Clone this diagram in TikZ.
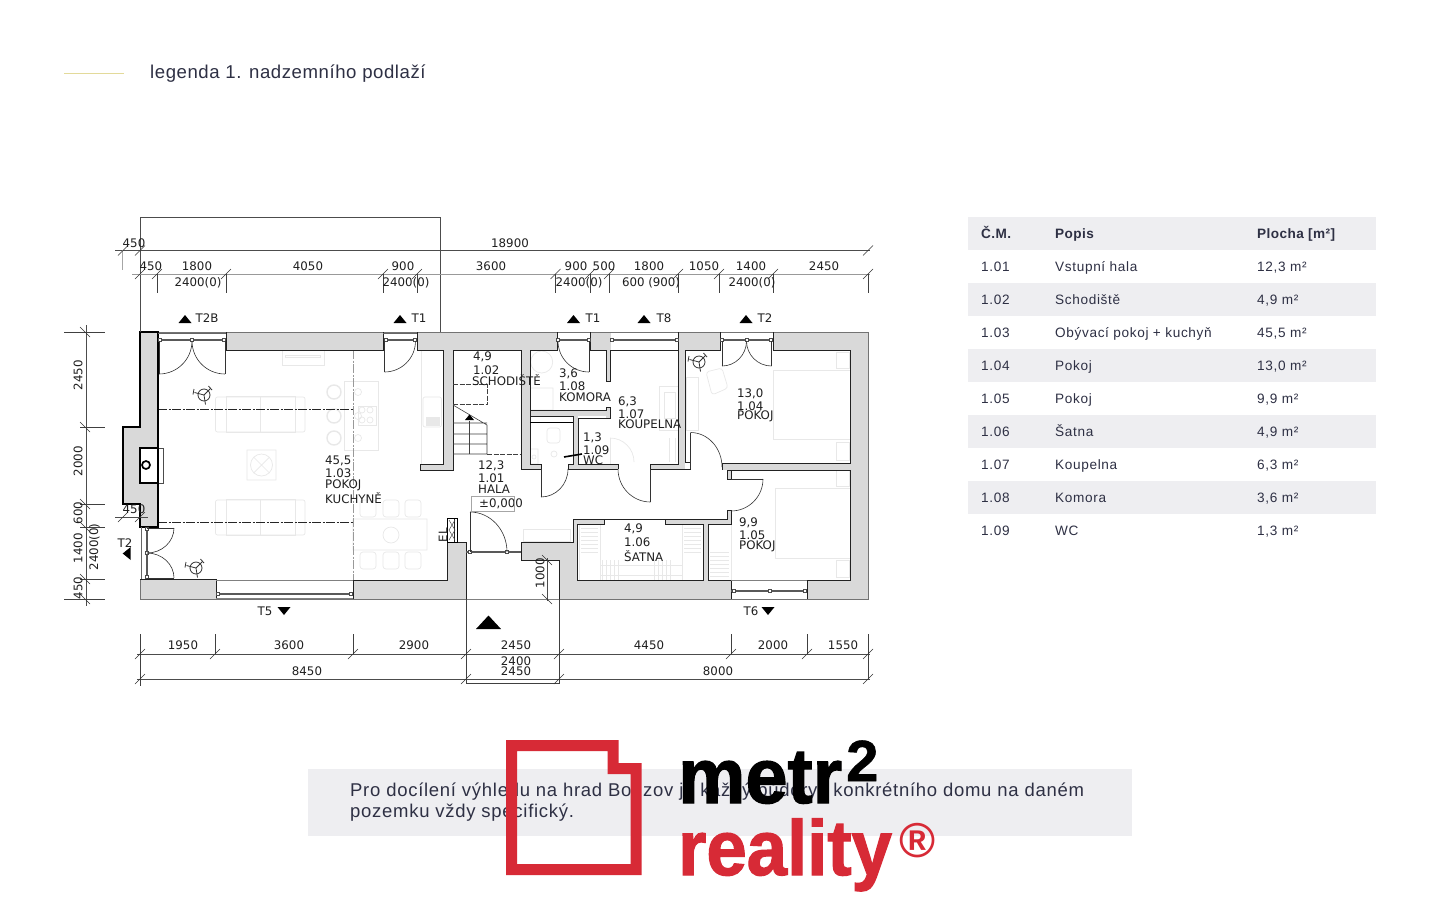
\documentclass[tikz,border=0pt]{standalone}
\usepackage{fontspec}
\usepackage{graphicx}
\usetikzlibrary{calc}
\newfontfamily\planfont{DejaVu Sans}
\newfontfamily\robo[LetterSpace=4.8]{Liberation Sans}
\newfontfamily\robohead[LetterSpace=3.2]{Liberation Sans}
\newfontfamily\robonote[LetterSpace=3.9]{Liberation Sans}
\newfontfamily\robotitle[LetterSpace=3.0]{Liberation Sans}
\newfontfamily\logofont[FakeBold=1.6]{Liberation Sans Bold}
\newfontfamily\logofontb[FakeBold=1.0]{Liberation Sans Bold}
\newfontfamily\logofontc{Liberation Sans Bold}
\definecolor{ink}{HTML}{2E3044}
\definecolor{band}{HTML}{EEEEF1}
\definecolor{wallgray}{HTML}{D9D9D9}
\definecolor{logored}{HTML}{D72A36}
\definecolor{goldline}{HTML}{E3DA9A}
\definecolor{furn}{HTML}{E8E8E8}
\definecolor{edge}{HTML}{222222}
\tikzset{
  plantext/.style={font=\planfont\fontsize{11.8}{12}\selectfont,inner sep=0pt,text=black!88},
  roomtext/.style={plantext,anchor=west},
  dimtext/.style={plantext,anchor=center},
  dimline/.style={line width=.55pt,draw=black!70},
  extline/.style={line width=.6pt,draw=black!75},
  tickline/.style={line width=.6pt,draw=black!80},
  wallline/.style={line width=.9pt,draw=edge},
  outline/.style={line width=.9pt,draw=black!55},
  doorline/.style={line width=.6pt,draw=black!80},
  winline/.style={line width=1.4pt,draw=black!65},
  furnline/.style={line width=.7pt,draw=furn},
  sectionline/.style={line width=.8pt,draw=black!85,dash pattern=on 9pt off 1.5pt on 2pt off 1.5pt},
  tabletext/.style={font=\robo\fontsize{13.6}{14}\selectfont,text=ink,anchor=base west,inner sep=0pt},
  tablehead/.style={font=\robohead\bfseries\fontsize{13.6}{14}\selectfont,text=ink,anchor=base west,inner sep=0pt},
  marker/.style={fill=black,draw=none},
}
\newcommand\wallrect[4]{\fill[wallgray] (#1,#2) rectangle (#3,#4);}
\newcommand\tick[2]{\draw[tickline] (#1-5,#2+5) -- (#1+5,#2-5);}
\newcommand\qarc[7][doorline]{\draw[#1] (#2,#3) .. controls ($(#2,#3)!.5523!(#4,#5)$) and ($(#6,#7)!.5523!(#4,#5)$) .. (#6,#7);}
\newcommand\fsq[2]{\draw[line width=.6pt,fill=white,draw=black!70] (#1-1.7,#2-1.7) rectangle (#1+1.7,#2+1.7);}
\newcommand\lightfix[2]{%
  \draw[line width=.8pt,draw=black!80] (#1,#2) circle[radius=6pt];
  \draw[line width=.8pt,draw=black!80] (#1,#2) -- ++(6.5,-6.5) (#1,#2) -- ++(-9.5,-2.5) (#1,#2) -- ++(1.5,9.5);
  \draw[line width=.8pt,draw=black!80] (#1+4.5,#2-9) -- ++(3.5,4) (#1-10,#2-6) -- ++(-1,5.5);}
\newcommand\tup[2]{\fill[marker] (#1-6.5,#2+4) -- (#1,#2-4) -- (#1+6.5,#2+4) -- cycle;}
\newcommand\tdown[2]{\fill[marker] (#1-6.5,#2-4) -- (#1,#2+4) -- (#1+6.5,#2-4) -- cycle;}
\newcommand\roomlabel[2]{\node[roomtext] at (#1) {#2};}
\newcommand\trow[4]{\node[tabletext] at (981,#1) {#2};\node[tabletext] at (1055,#1) {#3};\node[tabletext] at (1257,#1) {#4};}
\begin{document}
\begin{tikzpicture}[x=1pt,y=-1pt]
\useasboundingbox (0,0) rectangle (1440,900);
\fill[white] (0,0) rectangle (1440,900);

% header
\draw[goldline,line width=1.4pt] (64,73.5) -- (124,73.5);
\node[anchor=base west,inner sep=0pt,text=ink,font=\robotitle\fontsize{18.6}{19}\selectfont] (title) at (150,78.5) {legenda 1. nadzemního podlaží};

% table
\fill[band] (968,217) rectangle (1376,250);
\foreach \y in {283,349,415,481} \fill[band] (968,\y) rectangle (1376,\y+33);
\node[tablehead] (h1) at (981,238) {Č.M.};
\node[tablehead] (h2) at (1055,238) {Popis};
\node[tablehead] (h3) at (1257,238) {Plocha [m²]};
\trow{271}{1.01}{Vstupní hala}{12,3 m²}
\trow{304}{1.02}{Schodiště}{4,9 m²}
\trow{337}{1.03}{Obývací pokoj + kuchyň}{45,5 m²}
\trow{370}{1.04}{Pokoj}{13,0 m²}
\trow{403}{1.05}{Pokoj}{9,9 m²}
\trow{436}{1.06}{Šatna}{4,9 m²}
\trow{469}{1.07}{Koupelna}{6,3 m²}
\trow{502}{1.08}{Komora}{3,6 m²}
\trow{535}{1.09}{WC}{1,3 m²}

% ---------- furniture ----------
\draw[furnline] (282,350) rectangle (324,365) (285,355) rectangle (320,357);
\foreach \yy/\hh in {396/432,499/535}{
  \draw[furnline,rounded corners=2pt] (215.5,\yy+1) rectangle (305,\hh);
  \draw[furnline] (226,\yy) rectangle (295,\hh) (260.5,\yy) -- (260.5,\hh);
}
\draw[furnline] (344,381) rectangle (378.5,450) (358,406) rectangle (376,425);
\foreach \yy in {392,416,438}{\draw[furnline,line width=1.4pt] (334,\yy) circle[radius=7pt];\draw[furnline] (358,\yy) circle[radius=3.5pt];}
\foreach \cx/\cy in {362/410,370/410,362/420,370/420}\draw[furnline] (\cx,\cy) circle[radius=3pt];
\draw[furnline] (421,350) -- (421,464);
\draw[furnline,rounded corners=2pt] (423,397) rectangle (441.5,427);
\draw[furnline,fill=furn] (426,417) rectangle (439,425);
\draw[furnline] (247,450) rectangle (276,480) (261.5,465) circle[radius=11pt] (253.5,457) -- (269.5,473) (253.5,473) -- (269.5,457);
\draw[furnline] (353,519) rectangle (427,550) (391,535) circle[radius=8pt];
\foreach \cx in {368,391,413}{
  \draw[furnline,rounded corners=3pt] (\cx-8,500) rectangle (\cx+8,517);
  \draw[furnline,rounded corners=3pt] (\cx-8,552) rectangle (\cx+8,569);
}
\draw[furnline] (523,529) rectangle (570,541);
\draw[furnline] (541.7,362) circle[radius=11pt] (530,388) rectangle (553,410);
\draw[furnline,rounded corners=3pt] (547,428) rectangle (560,443);
\draw[furnline] (530,449) rectangle (538,464) (554,454) circle[radius=3pt] (534,457) circle[radius=2pt];
\qarc[furnline]{610}{438}{634}{438}{634}{462}
\draw[furnline] (610,438) -- (610,464);
\draw[furnline] (659,386) rectangle (678,430) (664,392) rectangle (675,418);
\draw[furnline] (669,438) -- (669,462) (675,438) -- (675,462);
\draw[furnline] (773,370) rectangle (850,439) (836,352) rectangle (849,368) (836,442) rectangle (849,460);
\draw[furnline] (686,377) rectangle (698,430);
\draw[furnline,rounded corners=3pt] (706,372) -- (722,368) -- (728,388) -- (712,395) -- cycle;
\draw[furnline] (775,488) rectangle (850,558) (836,470) rectangle (849,486) (836,560) rectangle (849,577);
\draw[furnline] (708,524) rectangle (731,580);
\foreach \yy in {552,556,560,564,568,572,576}\draw[furnline,line width=.5pt] (710,\yy) -- (729,\yy);
\draw[furnline] (579,524) rectangle (600,580) (682,524) rectangle (703,580) (600,565) -- (682,565) (600,575) -- (682,575);
\foreach \yy in {528,532,536,540,544,548,552}{\draw[furnline,line width=.5pt] (581,\yy) -- (598,\yy);\draw[furnline,line width=.5pt] (684,\yy) -- (701,\yy);}
\foreach \xx in {602,606,610,614,618,654,658,662,666,670}\draw[furnline,line width=.5pt] (\xx,560) -- (\xx,580);

% ---------- section lines ----------
\draw[sectionline] (158,409) -- (353,409);
\draw[sectionline] (158,522) -- (353,522);
\draw[sectionline,draw=black!40] (353,350) -- (353,580);

% ---------- walls ----------
\wallrect{140}{332}{158}{527}
\wallrect{123}{427}{140}{504}
\wallrect{226}{332}{383}{350}
\wallrect{417}{332}{557}{350}
\wallrect{443}{350}{453}{470}
\wallrect{420}{464}{453}{470}
\wallrect{521}{350}{530}{469}
\wallrect{530}{464}{541}{469}
\wallrect{568}{464}{618}{469}
\wallrect{650}{464}{685}{469}
\wallrect{590}{332}{611}{350}
\wallrect{606}{350}{610}{381}
\wallrect{606}{407}{610}{418}
\wallrect{530}{410}{606}{416}
\wallrect{573}{416}{578}{464}
\wallrect{678}{332}{720}{350}
\wallrect{679}{350}{685}{467}
\wallrect{773}{332}{868}{350}
\wallrect{850}{350}{868}{599}
\wallrect{722}{463}{850}{470}
\wallrect{727}{470}{731}{479}
\wallrect{727}{510}{731}{523}
\wallrect{573}{519}{604}{524}
\wallrect{665}{519}{731}{524}
\wallrect{703}{524}{708}{580}
\wallrect{521}{542}{577}{560}
\wallrect{559}{560}{577}{599}
\wallrect{573}{519}{577.5}{580}
\wallrect{577}{580}{731}{599}
\wallrect{807}{580}{868}{599}
\wallrect{140}{579}{216}{599}
\wallrect{353}{580}{466}{599}
\wallrect{447}{542}{466}{599}

% outer faces
\draw[outline] (158,332) -- (868,332) -- (868,599) -- (559,599);
\draw[outline] (466,599) -- (140,599) -- (140,579);
% left wall, heavy
\draw[line width=1.7pt,draw=black] (158,527) -- (158,332) -- (140,332) -- (140,427) -- (123,427) -- (123,504) -- (140,504) -- (140,527) -- cycle;
\draw[line width=.6pt,draw=black!70] (158,448) rectangle (163,483);
\fill[white] (140,448) rectangle (158,483);
\draw[line width=1.7pt,draw=black] (140,448) rectangle (158,483);
\draw[line width=1.7pt,draw=black] (146,465) circle[radius=4pt];
\draw[line width=.7pt,draw=black!60] (141,527) -- (141,579);
% interior wall faces
\draw[wallline] (226,332) -- (226,350) -- (383,350) -- (383,332);
\draw[wallline] (417,332) -- (417,350) -- (443,350) -- (443,464) -- (420,464) -- (420,470) -- (453,470) -- (453,350) -- (521,350) -- (521,469) -- (541,469) -- (541,464) -- (530,464) -- (530,350) -- (557,350) -- (557,332);
\draw[wallline] (590,332) -- (590,350) -- (606,350) -- (606,381) -- (610,381) -- (610,350) -- (678,350) -- (678,332);
\draw[wallline] (530,410) -- (606,410) -- (606,407) -- (610,407) -- (610,418) -- (578,418) -- (578,464) -- (618,464) -- (618,469);
\draw[wallline] (530,416) -- (573,416) -- (573,464) -- (568,464) -- (568,469) -- (618,469);
\draw[line width=1.6pt,draw=black] (530,422.5) -- (573,422.5);
\draw[wallline] (650,469) -- (650,464) -- (678,464) -- (678,350);
\draw[wallline] (650,469) -- (690,469) -- (690,462);
\draw[wallline] (720,332) -- (720,350) -- (685,350) -- (685,462) -- (690,462);
\draw[wallline] (773,332) -- (773,350) -- (850,350) -- (850,463) -- (722,463) -- (722,470);
\draw[wallline] (850,470) -- (727,470) -- (727,479) -- (731,479) -- (731,470);
\draw[wallline] (850,470) -- (850,580) -- (807,580) -- (807,599);
\draw[wallline] (731,510) -- (727,510) -- (727,519) -- (665,519) -- (665,524) -- (703,524) -- (703,580) -- (577.5,580) -- (577.5,524) -- (604,524) -- (604,519) -- (573,519) -- (573,542) -- (521,542) -- (521,560) -- (559,560) -- (559,599);
\draw[wallline] (604,519) -- (665,519);
\draw[wallline] (708,580) -- (708,524) -- (731,524) -- (731,510);
\draw[wallline] (731,580) -- (731,599);
\draw[wallline] (731,580) -- (708,580);
\draw[wallline] (216,599) -- (216,579.5) -- (140,579.5);
\draw[wallline] (353,599) -- (353,580.5) -- (447,580.5) -- (447,518) -- (454,518) -- (454,542) -- (466,542) -- (466,599);

% EL box
\draw[line width=.9pt,draw=black] (447,518) rectangle (457,542);
\draw[line width=.5pt,draw=black!70] (449,520) -- (455,530) -- (449,540) (455,520) -- (449,530) -- (455,540);
\node[plantext,rotate=90] (el) at (443,535) {EL};

% windows
\draw[line width=.7pt,draw=black!60] (158,333) -- (226,333) (383,333) -- (417,333);
\draw[winline] (159,340) -- (226,340);
\draw[winline] (384,340) -- (417,340);
\draw[winline] (557,340) -- (590,340);
\draw[winline] (611,340) -- (678,340);
\draw[winline] (720,340) -- (773,340);
\draw[winline] (147,527) -- (147,579);
\draw[winline] (216,594) -- (353,594);
\draw[winline] (731,591) -- (807,591);
\draw[line width=.5pt,draw=black!50] (216,580) -- (353,580) (731,580) -- (807,580) (216,598) -- (353,598);
\draw[line width=1.5pt,draw=black!65] (466,552) -- (521,552);
\draw[line width=.5pt,draw=black!50] (466,599) -- (559,599);
\foreach \cx/\cy in {160/340,191.5/340,224/340,386/340,415/340,558/340,588.5/340,612/340,677/340,722/340,746.5/340,771/340,147/529,147/553,147/577,218/594,351/594,734/591,770/591,805/591,470/552,507/552}{\fsq{\cx}{\cy}}

% doors
\draw[doorline] (159,341) -- (159,374) (225,341) -- (225,374);
\qarc{159}{374}{192}{374}{192}{341}
\qarc{225}{374}{192}{374}{192}{341}
\draw[doorline] (384.5,341) -- (384.5,372);
\qarc{384.5}{372}{415.5}{372}{415.5}{341}
\draw[doorline] (589,341) -- (589,372);
\qarc{589}{372}{558}{372}{558}{341}
\draw[doorline] (722,341) -- (722,366) (771.5,341) -- (771.5,366);
\qarc{722}{366}{746.5}{366}{746.5}{341}
\qarc{771.5}{366}{746.5}{366}{746.5}{341}
\draw[doorline] (147,528) -- (174,528) (147,578) -- (174,578);
\qarc{174}{528}{174}{553}{147}{553}
\qarc{174}{578}{174}{553}{147}{553}
\draw[doorline] (470,552) -- (470,512);
\qarc{470}{512}{507}{512}{507}{552}
\draw[doorline] (541,469) -- (541,497);
\qarc{541}{497}{568}{497}{568}{469}
\draw[doorline] (650.5,469) -- (650.5,502);
\qarc{650.5}{502}{618}{502}{618}{469}
\draw[doorline] (690.5,469) -- (690.5,432.5);
\qarc{690.5}{432.5}{722}{432.5}{722}{467}
\draw[doorline] (731,479) -- (763,479);
\qarc{763}{479}{763}{511}{731}{511}
\draw[line width=1.6pt,draw=black] (564,457) -- (582,454);

% stairs
\draw[line width=.6pt,draw=black!75,dash pattern=on 5pt off 1.5pt] (453,384) -- (487,384) -- (487,405) (453,404) -- (487,404);
\draw[line width=.6pt,draw=black!75] (453,405) -- (487,425) -- (487,454) (453,423) -- (487,423) (453,434) -- (487,434) (453,444) -- (487,444) (453,454) -- (487,454) (469.5,421) -- (469.5,454);
\draw[line width=.6pt,draw=black!75,dash pattern=on 5pt off 1.5pt] (487,454) -- (521,454);
\fill[black] (465,420) -- (469.5,414.5) -- (474,420) -- cycle;

% fans
\lightfix{204}{395}
\lightfix{196}{568}
\lightfix{699}{362}

% ---------- dimensions: top ----------
\draw[line width=.6pt,draw=black!70] (140.5,332) -- (140.5,217) -- (440.5,217) -- (440.5,332);
\draw[dimline] (115,250.5) -- (870,250.5);
\draw[dimline,line width=.9pt,draw=black!40] (132,274) -- (870,274);
\draw[line width=1pt,draw=black!35] (122.7,250) -- (122.7,270);
\foreach \xx in {123,140,868}{\tick{\xx}{250.5}}
\foreach \xx in {140,157,226,383,417,555.5,590,609,678,719,773,868}{\tick{\xx}{274}}
\foreach \xx in {157,226,383,417,555.5,590,609,678,719,773,868}{\draw[extline] (\xx,274) -- (\xx,293);}
\node[dimtext] (d1) at (134,243) {450};
\node[dimtext] (d2) at (510,243) {18900};
\foreach \xx/\t in {151/450,197/1800,308/4050,403/900,491/3600,576/900,604/500,649/1800,704/1050,751/1400,824/2450}{\node[dimtext] at (\xx,266.5) {\t};}
\foreach \xx/\t in {198/2400(0),406/2400(0),579/2400(0),651/600 (900),752/2400(0)}{\node[dimtext] at (\xx,282.5) {\t};}
% markers top
\tup{185}{319}\node[dimtext] (t2b) at (207,318.5) {T2B};
\tup{400}{319}\node[dimtext] (t1a) at (419,318.5) {T1};
\tup{573.5}{319}\node[dimtext] (t1b) at (593,318.5) {T1};
\tup{644}{319}\node[dimtext] (t8) at (664,318.5) {T8};
\tup{746}{319}\node[dimtext] (t2t) at (765,318.5) {T2};

% ---------- dimensions: left ----------
\draw[dimline] (86,325) -- (86,606);
\draw[extline] (64,332) -- (105,332);
\draw[extline] (80,427) -- (105,427);
\draw[extline] (80,504) -- (105,504);
\draw[extline] (80,527) -- (105,527);
\draw[extline] (80,579) -- (105,579);
\draw[extline] (64,599) -- (105,599);
\foreach \yy in {332,427,504,527,579,599}{\draw[tickline] (80,\yy-5) -- (90,\yy+5);}
\foreach \yy/\t in {375/2450,461/2000,513/600,548/1400,588/450}{\node[dimtext,rotate=90] at (78,\yy) {\t};}
\node[dimtext,rotate=90] (dv) at (94.5,547) {2400(0)};
\draw[dimline] (115,517) -- (148,517);
\tick{123}{517}\tick{140}{517}
\node[dimtext] (d450) at (134,509.5) {450};
\node[dimtext] (t2l) at (125,543) {T2};
\fill[marker] (122.7,553.5) -- (130.7,547) -- (130.7,560) -- cycle;

% ---------- dimensions: bottom ----------
\node[dimtext] (t5) at (265,611) {T5};
\tdown{284}{611}
\node[dimtext] (t6) at (751,611) {T6};
\tdown{768}{611}
\fill[marker] (476,629) -- (488.5,615.5) -- (501,629) -- cycle;
\draw[dimline] (137,654) -- (870,654);
\draw[dimline] (137,679) -- (870,679);
\draw[extline] (140,634) -- (140,686);
\draw[extline] (215,634) -- (215,654);
\draw[extline] (353,634) -- (353,654);
\draw[extline] (731,634) -- (731,654);
\draw[extline] (807,634) -- (807,654);
\draw[extline] (868,634) -- (868,654) (868,654) -- (868,679);
\draw[extline] (466,599) -- (466,683) -- (559,683) -- (559,599);
\foreach \xx in {140,215,353,466,559,731,807,868}{\tick{\xx}{654}}
\foreach \xx in {140,466,559,868}{\tick{\xx}{679}}
\foreach \xx/\t in {183/1950,289/3600,414/2900,516/2450,649/4450,773/2000,843/1550}{\node[dimtext] at (\xx,645.5) {\t};}
\node[dimtext] (d2400) at (516,661) {2400};
\node[dimtext] (d2450) at (516,671.5) {2450};
\node[dimtext] (d8450) at (307,671.5) {8450};
\node[dimtext] (d8000) at (718,671.5) {8000};
\draw[dimline] (547,558) -- (547,601);
\draw[tickline] (542,555) -- (552,565) (542,594) -- (552,604);
\node[dimtext,rotate=90] (d1000) at (540,573) {1000};

% ---------- room labels ----------
\roomlabel{473,357}{4,9}\roomlabel{473,370}{1.02}\roomlabel{472,380}{SCHODIŠTĚ}
\roomlabel{325,460.5}{45,5}\roomlabel{325,473.5}{1.03}\roomlabel{325,485.5}{POKOJ}\roomlabel{325,498}{KUCHYNĚ}
\roomlabel{559,373.5}{3,6}\roomlabel{559,386.5}{1.08}\roomlabel{559,397}{KOMORA}
\roomlabel{618,401.5}{6,3}\roomlabel{618,414.5}{1.07}\roomlabel{618,424.5}{KOUPELNA}
\roomlabel{737,393.5}{13,0}\roomlabel{737,406.5}{1.04}\roomlabel{737,416.5}{POKOJ}
\roomlabel{583,437.5}{1,3}\roomlabel{583,450.5}{1.09}\roomlabel{583,460.5}{WC}
\roomlabel{478,465.5}{12,3}\roomlabel{478,478.5}{1.01}\roomlabel{478,489.5}{HALA}
\roomlabel{479,503.5}{±0,000}
\draw[line width=.5pt,draw=black!35] (471,496) rectangle (514.5,511);
\roomlabel{739,522.5}{9,9}\roomlabel{739,535.5}{1.05}\roomlabel{739,546}{POKOJ}
\roomlabel{624,529}{4,9}\roomlabel{624,542}{1.06}\roomlabel{624,556.5}{ŠATNA}

% ---------- note ----------
\fill[band] (308,769) rectangle (1132,836);
\node[anchor=west,inner sep=0pt,text=ink,font=\robonote\fontsize{18.5}{21}\selectfont,align=left] (note) at (350,801) {Pro docílení výhledu na hrad Bouzov je každý půdorys konkrétního domu na daném\\pozemku vždy specifický.};

% ---------- logo ----------
\fill[logored,even odd rule] (506,740) -- (618.5,740) -- (618.5,763) -- (641.5,763) -- (641.5,875) -- (506,875) -- cycle
  (517,751) -- (607.5,751) -- (607.5,774) -- (630.5,774) -- (630.5,864) -- (517,864) -- cycle;
\node[anchor=base west,inner sep=0pt,text=black,font=\logofont\fontsize{78}{80}\selectfont] (metr) at (678,803) {\scalebox{.97}[1]{metr}};
\node[anchor=base west,inner sep=0pt,text=black,font=\logofontb\fontsize{58}{60}\selectfont] (sq) at (846,781) {2};
\node[anchor=base west,inner sep=0pt,text=logored,font=\logofont\fontsize{78}{80}\selectfont] (reality) at (678,875) {\scalebox{.93}[1]{reality}};
\node[anchor=base west,inner sep=0pt,text=logored,font=\logofontc\fontsize{49}{50}\selectfont] (reg) at (899,857) {®};
\end{tikzpicture}
\end{document}
